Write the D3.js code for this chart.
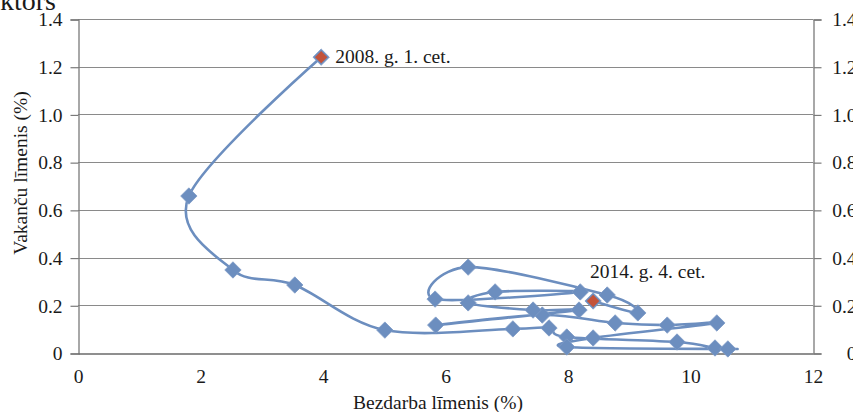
<!DOCTYPE html>
<html><head><meta charset="utf-8">
<script src="https://cdn.jsdelivr.net/npm/d3@7"></script>
<style>
html,body{margin:0;padding:0;background:#fff;overflow:hidden;}
text{font-family:"Liberation Serif","Times New Roman",serif;fill:#1a1a1a;}
</style></head>
<body><svg id="c" width="853" height="412"></svg>
<script>
// ---- data ----
const quarters = [
 "2008. g. 1. cet.","2008. g. 2. cet.","2008. g. 3. cet.","2008. g. 4. cet.",
 "2009. g. 1. cet.","2009. g. 2. cet.","2009. g. 3. cet.","2009. g. 4. cet.",
 "2010. g. 1. cet.","2010. g. 2. cet.","2010. g. 3. cet.","2010. g. 4. cet.",
 "2011. g. 1. cet.","2011. g. 2. cet.","2011. g. 3. cet.","2011. g. 4. cet.",
 "2012. g. 1. cet.","2012. g. 2. cet.","2012. g. 3. cet.","2012. g. 4. cet.",
 "2013. g. 1. cet.","2013. g. 2. cet.","2013. g. 3. cet.","2013. g. 4. cet.",
 "2014. g. 1. cet.","2014. g. 2. cet.","2014. g. 3. cet.","2014. g. 4. cet."
];
const unemployment = [3.97,1.81,2.53,3.54,5.01,7.10,7.69,7.98,9.78,10.40,10.61,7.98,8.41,10.43,9.62,8.77,7.58,5.84,8.18,7.43,6.37,6.81,8.20,5.83,6.37,8.64,9.14,8.41];
const vacancies    = [1.24,0.658,0.348,0.285,0.096,0.101,0.105,0.067,0.046,0.021,0.017,0.025,0.063,0.126,0.117,0.126,0.159,0.117,0.180,0.180,0.210,0.256,0.256,0.226,0.360,0.243,0.168,0.218];
const xTicks = [0,2,4,6,8,10,12];
const yTicks = [0,0.2,0.4,0.6,0.8,1.0,1.2,1.4];
const yTickLabels = ["0","0.2","0.4","0.6","0.8","1.0","1.2","1.4"];
const highlighted = [0, quarters.length-1];
const chartTitle = "sektors";
const xTitle = "Bezdarba līmenis (%)";
const yTitle = "Vakanču līmenis (%)";

// ---- layout ----
const L = 78, R = 813, T = 19, B = 353;
const svg = d3.select("#c");
const x = d3.scaleLinear().domain([0,12]).range([L,R]);
const y = d3.scaleLinear().domain([0,1.4]).range([B,T]);
const gridColor = "#8a8a8a", axisColor = "#7a7a7a";
const fs = 19.5;

// title (cut off at top)
svg.append("text").attr("x",56).attr("y",10).attr("text-anchor","end")
  .style("font-size","28px").text(chartTitle);

// gridlines
svg.append("g").selectAll("line").data(yTicks.filter(d=>d>0)).join("line")
  .attr("x1",L).attr("x2",R).attr("y1",d=>Math.round(y(d))+0.5).attr("y2",d=>Math.round(y(d))+0.5)
  .attr("stroke",gridColor).attr("stroke-width",1.2);

// left axis
const yl = d3.axisLeft(y).tickValues(yTicks).tickSize(8).tickPadding(8)
  .tickFormat((d,i)=>yTickLabels[i]);
const gl = svg.append("g").attr("transform",`translate(${L+0.5},0.5)`).call(yl);
// right axis
const yr = d3.axisRight(y).tickValues(yTicks).tickSize(8).tickPadding(8)
  .tickFormat((d,i)=>yTickLabels[i]);
const gr = svg.append("g").attr("transform",`translate(${R+0.5},0.5)`).call(yr);
gr.selectAll("text").attr("text-anchor","end").attr("x",856-R);
// bottom axis
const xa = d3.axisBottom(x).tickValues(xTicks).tickSize(0).tickPadding(16).tickFormat(d3.format("d"));
const gx = svg.append("g").attr("transform",`translate(0,${B+0.5})`).call(xa);

[gl,gr,gx].forEach(g=>{
  g.select(".domain").attr("stroke",axisColor).attr("stroke-width",1.3);
  g.selectAll(".tick line").attr("stroke",axisColor).attr("stroke-width",1.2);
  g.selectAll("text").style("font-size",fs+"px").attr("fill","#1a1a1a")
   .style("font-family","'Liberation Serif',serif");
});
gx.select(".domain").attr("stroke","#6a6a6a");

// axis titles
svg.append("text").attr("x",438).attr("y",409).attr("text-anchor","middle")
  .style("font-size",fs+"px").text(xTitle);
svg.append("text").attr("transform",`translate(27,173) rotate(-90)`)
  .attr("text-anchor","middle").style("font-size",fs+"px").text(yTitle);

// data
const pts = unemployment.map((u,i)=>({u, v:vacancies[i], q:quarters[i]}));
const line = d3.line().x(d=>x(d.u)).y(d=>y(d.v)).curve(d3.curveCardinal.tension(0));
const blue = "#6c8ebf";
svg.append("path").datum(pts).attr("d",line).attr("fill","none")
  .attr("stroke",blue).attr("stroke-width",2.6);

const diamond = (s)=>`M0,${-s}L${s},0L0,${s}L${-s},0Z`;
svg.append("g").selectAll("path").data(pts).join("path")
  .attr("transform",d=>`translate(${x(d.u)},${y(d.v)})`)
  .attr("d",diamond(8.2)).attr("fill",blue).attr("stroke","#7d9bc7").attr("stroke-width",0.8);

const hp = highlighted.map(i=>pts[i]);
svg.append("g").selectAll("path").data(hp).join("path")
  .attr("transform",d=>`translate(${x(d.u)},${y(d.v)})`)
  .attr("d",diamond(6.2)).attr("fill","#c4533a");

svg.append("g").selectAll("text").data(hp).join("text")
  .attr("x",(d,i)=>i===0? x(d.u)+14 : x(d.u)-3)
  .attr("y",(d,i)=>i===0? y(d.v)+6 : y(d.v)-23)
  .style("font-size",fs+"px").text(d=>d.q);
</script></body></html>
